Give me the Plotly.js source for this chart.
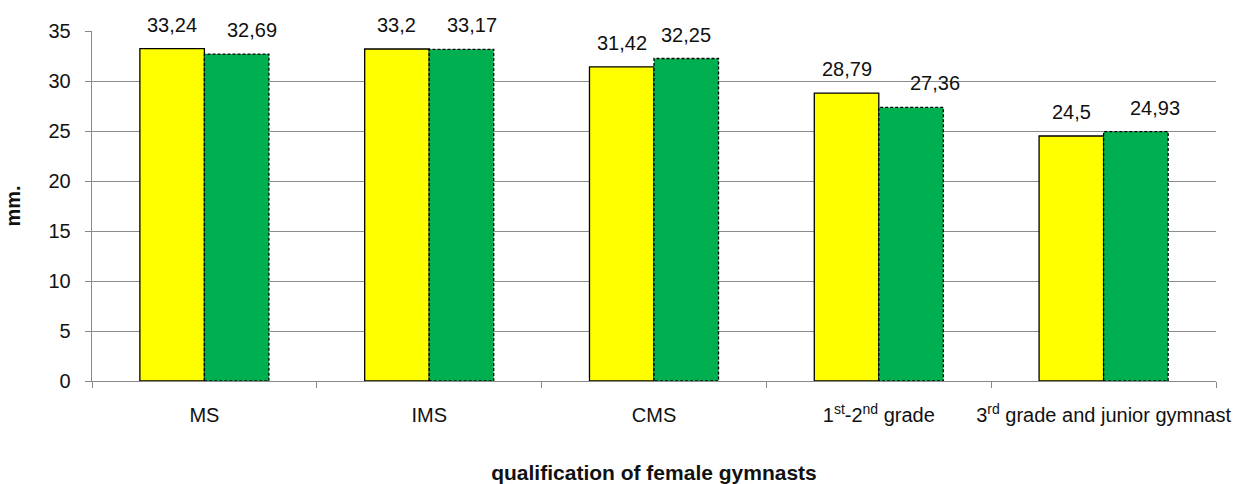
<!DOCTYPE html>
<html>
<head>
<meta charset="utf-8">
<script src="https://cdn.plot.ly/plotly-3.0.1.min.js"></script>
<style>
html,body{margin:0;padding:0;background:#fff;}
#chart{width:1244px;height:484px;}
.barlayer .trace:nth-child(2) .point path{stroke-dasharray:3px 2px !important;}
</style>
</head>
<body>
<div id="chart"></div>
<script>
const categories = ["MS", "IMS", "CMS", "1<sup>st</sup>-2<sup>nd</sup> grade", "3<sup>rd</sup> grade and junior gymnast"];
const seriesYellow = [33.24, 33.2, 31.42, 28.79, 24.5];
const seriesGreen = [32.69, 33.17, 32.25, 27.36, 24.93];
const yTicks = [0, 5, 10, 15, 20, 25, 30, 35];

// label nudges (pixels) that mimic the source's label placement
const greenLabelNudge = [15, 10, 0, 24, 19];

const fmt = v => String(v).replace('.', ',');
const FONT = "Liberation Sans, Arial, sans-serif";
const FS = 20;

const traces = [
  {type: 'bar', x: categories, y: seriesYellow, name: 'A',
   marker: {color: '#FFFF00', line: {color: '#000', width: 1.3}}, hoverinfo: 'none'},
  {type: 'bar', x: categories, y: seriesGreen, name: 'B',
   marker: {color: '#00B050', line: {color: '#000', width: 1.3}}, hoverinfo: 'none'}
];

const annotations = [];
const half = 32.3;
categories.forEach((c, i) => {
  annotations.push({x: c, y: seriesYellow[i], text: fmt(seriesYellow[i]), showarrow: false,
    yanchor: 'bottom', xanchor: 'center', xshift: -half, yshift: 11,
    font: {family: FONT, size: FS, color: '#111'}});
  annotations.push({x: c, y: seriesGreen[i], text: fmt(seriesGreen[i]), showarrow: false,
    yanchor: 'bottom', xanchor: 'center', xshift: half + greenLabelNudge[i], yshift: 11,
    font: {family: FONT, size: FS, color: '#111'}});
});

const layout = {
  width: 1244, height: 484,
  margin: {l: 92, r: 28, t: 31, b: 103},
  paper_bgcolor: '#fff', plot_bgcolor: '#fff',
  showlegend: false,
  barmode: 'group', bargap: 0.426, bargroupgap: 0,
  font: {family: FONT, size: FS, color: '#111'},
  xaxis: {
    type: 'category', tickson: 'boundaries', ticks: 'outside', ticklen: 6, tickcolor: '#888',
    showline: true, linecolor: '#888', linewidth: 1.3, showgrid: false,
    tickangle: 0,
    ticklabelstandoff: 16,
    tickfont: {family: FONT, size: FS, color: '#111'},
    title: {text: '<b>qualification of female gymnasts</b>', font: {family: FONT, size: 21, color: '#111'}, standoff: 46},
    automargin: false
  },
  yaxis: {
    range: [0, 35], tickvals: yTicks, ticktext: yTicks.map(String),
    ticks: 'outside', ticklen: 6, tickcolor: '#888',
    showline: true, linecolor: '#888', linewidth: 1.3,
    showgrid: true, gridcolor: '#8c8c8c', gridwidth: 1, zeroline: false,
    ticklabelstandoff: 10,
    tickfont: {family: FONT, size: FS, color: '#111'},
    title: {text: '<b>mm.</b>', font: {family: FONT, size: FS, color: '#111'}, standoff: 22},
    automargin: false
  },
  annotations: annotations
};

Plotly.newPlot('chart', traces, layout, {displayModeBar: false, staticPlot: true});
</script>
</body>
</html>
